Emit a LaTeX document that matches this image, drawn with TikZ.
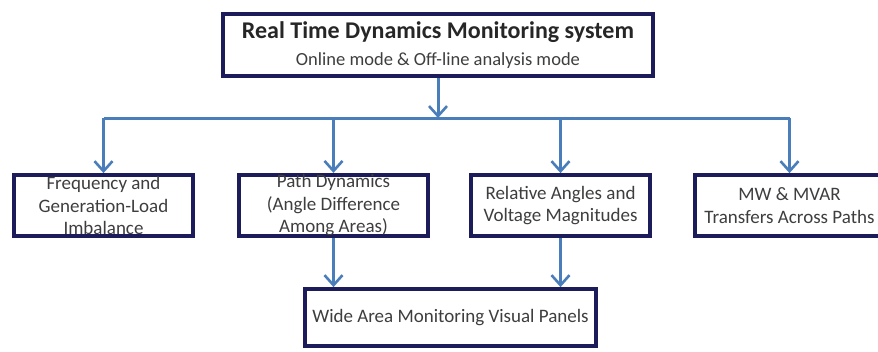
\documentclass[tikz,border=0pt]{standalone}
\usepackage{fontspec}
\setmainfont{Carlito}
\usetikzlibrary{arrows.meta}
\definecolor{navy}{HTML}{1C1C5A}
\definecolor{flow}{HTML}{4A7EBB}
\definecolor{ink}{HTML}{3E3E3E}
\begin{document}
\begin{tikzpicture}[x=1pt,y=-1pt,
  box/.style={draw=navy, line width=3.8pt, fill=white, text=ink, inner sep=0pt,
    align=center, font=\fontsize{19}{22.5}\selectfont},
  flowarrow/.style={draw=flow, line width=3pt,
    -{Straight Barb[length=10pt,width=18pt,line width=2.6pt]}},
  busline/.style={draw=flow, line width=3pt}]
\useasboundingbox (0,0) rectangle (878,351);
\fill[white] (0,0) rectangle (878,351);

% top-level system box
\node[box, minimum width=430pt, minimum height=62pt] (sys) at (438,45)
  {{\fontsize{24}{28}\selectfont\bfseries\color{black!85} Real Time Dynamics Monitoring system}\\[5pt]
   {\fontsize{18.5}{21}\selectfont Online mode \& Off-line analysis mode}};

% monitored quantities
\node[box, minimum width=179pt, minimum height=61pt] (freq) at (103.5,205.5)
  {Frequency and\\Generation-Load\\Imbalance};
\node[box, minimum width=189pt, minimum height=61pt] (path) at (333.5,205.5)
  {Path Dynamics\\(Angle Difference\\Among Areas)};
\node[box, minimum width=179pt, minimum height=61pt] (angle) at (560.5,205.5)
  {Relative Angles and\\Voltage Magnitudes};
\node[box, minimum width=189pt, minimum height=61pt] (mw) at (789.5,205.5)
  {MW \& MVAR\\Transfers Across Paths};

% visualisation
\node[box, minimum width=291pt, minimum height=57pt] (panel) at (450.5,317.5)
  {Wide Area Monitoring Visual Panels};

% distribution bus
\coordinate (busmid) at (sys.south |- 0,118);
\coordinate (busL) at (freq.north |- busmid);
\coordinate (busR) at (mw.north |- busmid);
\draw[busline] (busL) -- (busR);
\draw[flowarrow] (sys.south) -- (busmid);
\draw[flowarrow] (busL) -- (freq.north);
\draw[flowarrow] (path.north |- busmid) -- (path.north);
\draw[flowarrow] (angle.north |- busmid) -- (angle.north);
\draw[flowarrow] (busR) -- (mw.north);

% feeds into the visual panels
\draw[flowarrow] (path.south) -- (path.south |- panel.north);
\draw[flowarrow] (angle.south) -- (angle.south |- panel.north);
\end{tikzpicture}
\end{document}
